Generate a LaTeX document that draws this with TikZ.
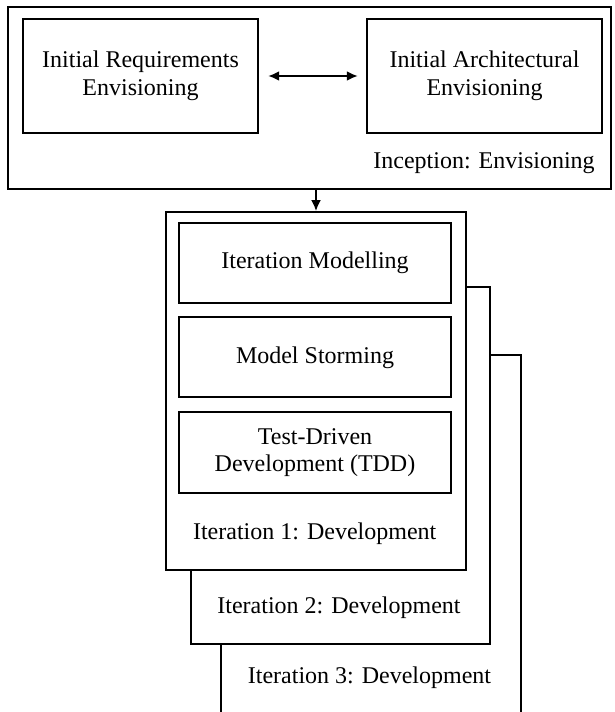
\documentclass[tikz,border=0pt]{standalone}
\usepackage{fontspec}
\setmainfont{Liberation Serif}
\usetikzlibrary{arrows.meta}
\begin{document}
\begin{tikzpicture}[x=1pt,y=-1pt,
  every node/.style={font=\fontsize{24}{27.5}\selectfont, align=center},
  frame/.style={draw, line width=1.8pt, fill=white, inner sep=0pt},
  label/.style={inner sep=0pt},
  tip/.style={Latex[length=11pt,width=10pt]},
  conn/.style={line width=2pt, -{Latex[length=11pt,width=10pt]}},
  biconn/.style={line width=2pt, {Latex[length=11pt,width=10pt]}-{Latex[length=11pt,width=10pt]}}]
  \clip (0,0) rectangle (614,712);
  \fill[white] (0,0) rectangle (614,712);

  % inception phase
  \node[frame, minimum width=603pt, minimum height=182pt] (incep) at (309.5,98) {};
  \node[frame, minimum width=235.6pt, minimum height=113.4pt] (req) at (140.5,76)
    {Initial Requirements\\Envisioning};
  \node[frame, minimum width=235.6pt, minimum height=113.4pt] (arch) at (484.5,76)
    {Initial Architectural\\Envisioning};
  \node[label] (incepl) at (484,163) {Inception: Envisioning};
  \draw[biconn, shorten <=9pt, shorten >=8pt] (req.east) -- (arch.west);

  % stacked iterations, back to front
  \node[frame, minimum width=300pt, minimum height=405pt] (it3) at (371,557.5) {};
  \node[label] (it3l) at (369.5,678) {Iteration 3: Development};
  \node[frame, minimum width=299pt, minimum height=357pt] (it2) at (340.5,465.5) {};
  \node[label] (it2l) at (339,608) {Iteration 2: Development};
  \node[frame, minimum width=300pt, minimum height=358pt] (it1) at (316,391) {};
  \node[label] (it1l) at (314.7,534) {Iteration 1: Development};

  \node[frame, minimum width=271.4pt, minimum height=80.6pt] (model) at (315,263)
    {Iteration Modelling};
  \node[frame, minimum width=271.4pt, minimum height=80pt] (storm) at (315,357.3)
    {Model Storming};
  \node[frame, minimum width=271.4pt, minimum height=80.4pt] (tdd) at (315,452.5)
    {Test-Driven\\Development (TDD)};

  \draw[conn] (it1.north |- incep.south) -- (it1.north);
\end{tikzpicture}
\end{document}
